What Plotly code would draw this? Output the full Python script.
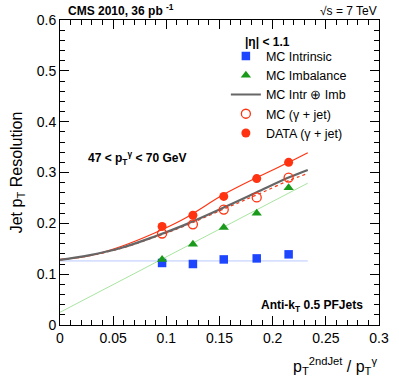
import plotly.graph_objects as go

x_pts = [0.096, 0.125, 0.154, 0.185, 0.215]
mc_intrinsic = [0.122, 0.120, 0.129, 0.131, 0.139]
mc_imbalance = [0.129, 0.159, 0.192, 0.220, 0.270]
mc_gjet = [0.180, 0.198, 0.227, 0.251, 0.290]
data_gjet = [0.194, 0.216, 0.253, 0.288, 0.320]

# fitted curves, sampled off the figure
x_fit = [0.0, 0.027, 0.058, 0.089, 0.115, 0.155, 0.185, 0.215, 0.233]
fit_data = [0.129, 0.136, 0.155, 0.181, 0.207, 0.258, 0.290, 0.320, 0.339]
fit_mc = [0.128, 0.136, 0.151, 0.173, 0.193, 0.229, 0.256, 0.284, 0.298]
fit_quad = [0.128, 0.137, 0.152, 0.174, 0.195, 0.232, 0.261, 0.290, 0.305]
x_lin = [0.0, 0.233]
fit_intr = [0.126, 0.126]
fit_imb = [0.025, 0.279]

BLUE = '#1e46ff'
GREEN = '#1a9a1a'
RED = '#ff3311'
FONT = 'Liberation Sans, Arial, sans-serif'

fig = go.Figure()

fig.add_trace(go.Scatter(x=x_lin, y=fit_intr, mode='lines', showlegend=False,
                         line=dict(color='#b9c8ff', width=1)))
fig.add_trace(go.Scatter(x=x_lin, y=fit_imb, mode='lines', showlegend=False,
                         line=dict(color='#a8e4a0', width=1)))
fig.add_trace(go.Scatter(x=x_fit, y=fit_mc, mode='lines', showlegend=False,
                         line=dict(color=RED, width=1.2, dash='dot', shape='spline')))
fig.add_trace(go.Scatter(x=x_fit, y=fit_data, mode='lines', showlegend=False,
                         line=dict(color=RED, width=1.2, shape='spline')))

fig.add_trace(go.Scatter(x=x_pts, y=mc_intrinsic, mode='markers', name='MC Intrinsic',
                         marker=dict(symbol='square', size=8.5, color=BLUE)))
fig.add_trace(go.Scatter(x=x_pts, y=mc_imbalance, mode='markers', name='MC Imbalance',
                         marker=dict(symbol='triangle-up', size=9, color=GREEN)))
fig.add_trace(go.Scatter(x=x_fit, y=fit_quad, mode='lines', name='MC Intr \u2295 Imb',
                         line=dict(color='#666666', width=2.2, shape='spline')))
fig.add_trace(go.Scatter(x=x_pts, y=mc_gjet, mode='markers', name='MC (\u03b3 + jet)',
                         marker=dict(symbol='circle-open', size=9, color=RED,
                                     line=dict(width=1.3))))
fig.add_trace(go.Scatter(x=x_pts, y=data_gjet, mode='markers', name='DATA (\u03b3 + jet)',
                         marker=dict(symbol='circle', size=9, color=RED)))

axis_common = dict(showgrid=False, zeroline=False, showline=True, linecolor='black',
                   linewidth=1, mirror='allticks', ticks='inside', tickcolor='black',
                   ticklen=9, tickfont=dict(size=14, color='black'), automargin=False)

fig.update_xaxes(range=[0, 0.3], dtick=0.05, tickformat='~g',
                 minor=dict(dtick=0.01, ticks='inside', ticklen=5, tickcolor='black'),
                 **axis_common)
fig.update_yaxes(range=[0, 0.6], dtick=0.1, tickformat='~g',
                 minor=dict(dtick=0.02, ticks='inside', ticklen=5, tickcolor='black'),
                 title=dict(text='Jet p<sub>T</sub> Resolution', font=dict(size=16),
                            standoff=10),
                 **axis_common)

fig.update_layout(
    width=399, height=383,
    margin=dict(l=60, r=20, t=20, b=58, autoexpand=False),
    paper_bgcolor='white', plot_bgcolor='white',
    font=dict(family=FONT, color='black'),
    legend=dict(x=0.52, y=0.93, xanchor='left', yanchor='top',
                bgcolor='rgba(0,0,0,0)', font=dict(size=12.5)),
    annotations=[
        dict(text='<b>CMS 2010, 36 pb <sup>-1</sup></b>', xref='paper', yref='paper',
             x=0.02, y=1.0, xanchor='left', yanchor='bottom', showarrow=False,
             font=dict(size=12)),
        dict(text='\u221as = 7 TeV', xref='paper', yref='paper',
             x=1.0, y=1.0, xanchor='right', yanchor='bottom', showarrow=False,
             font=dict(size=12)),
        dict(text='<b>|\u03b7| &lt; 1.1</b>', xref='paper', yref='paper',
             x=0.575, y=0.928, xanchor='left', yanchor='middle', showarrow=False,
             font=dict(size=12)),
        dict(text='<b>47 &lt; p<sub>T</sub><sup>\u03b3</sup> &lt; 70 GeV</b>', xref='paper',
             yref='paper', x=0.08, y=0.548, xanchor='left', yanchor='middle',
             showarrow=False, font=dict(size=12)),
        dict(text='<b>Anti-k<sub>T</sub> 0.5 PFJets</b>', xref='paper', yref='paper',
             x=0.955, y=0.062, xanchor='right', yanchor='middle', showarrow=False,
             font=dict(size=12)),
        dict(text='p<sub>T</sub><sup>2ndJet</sup> / p<sub>T</sub><sup>\u03b3</sup>',
             xref='paper', yref='paper', x=1.0, y=-0.135, xanchor='right',
             yanchor='middle', showarrow=False, font=dict(size=16)),
    ],
)

fig.write_html('out.html', config={'displayModeBar': False},
               post_script="document.body.style.margin='0';")
